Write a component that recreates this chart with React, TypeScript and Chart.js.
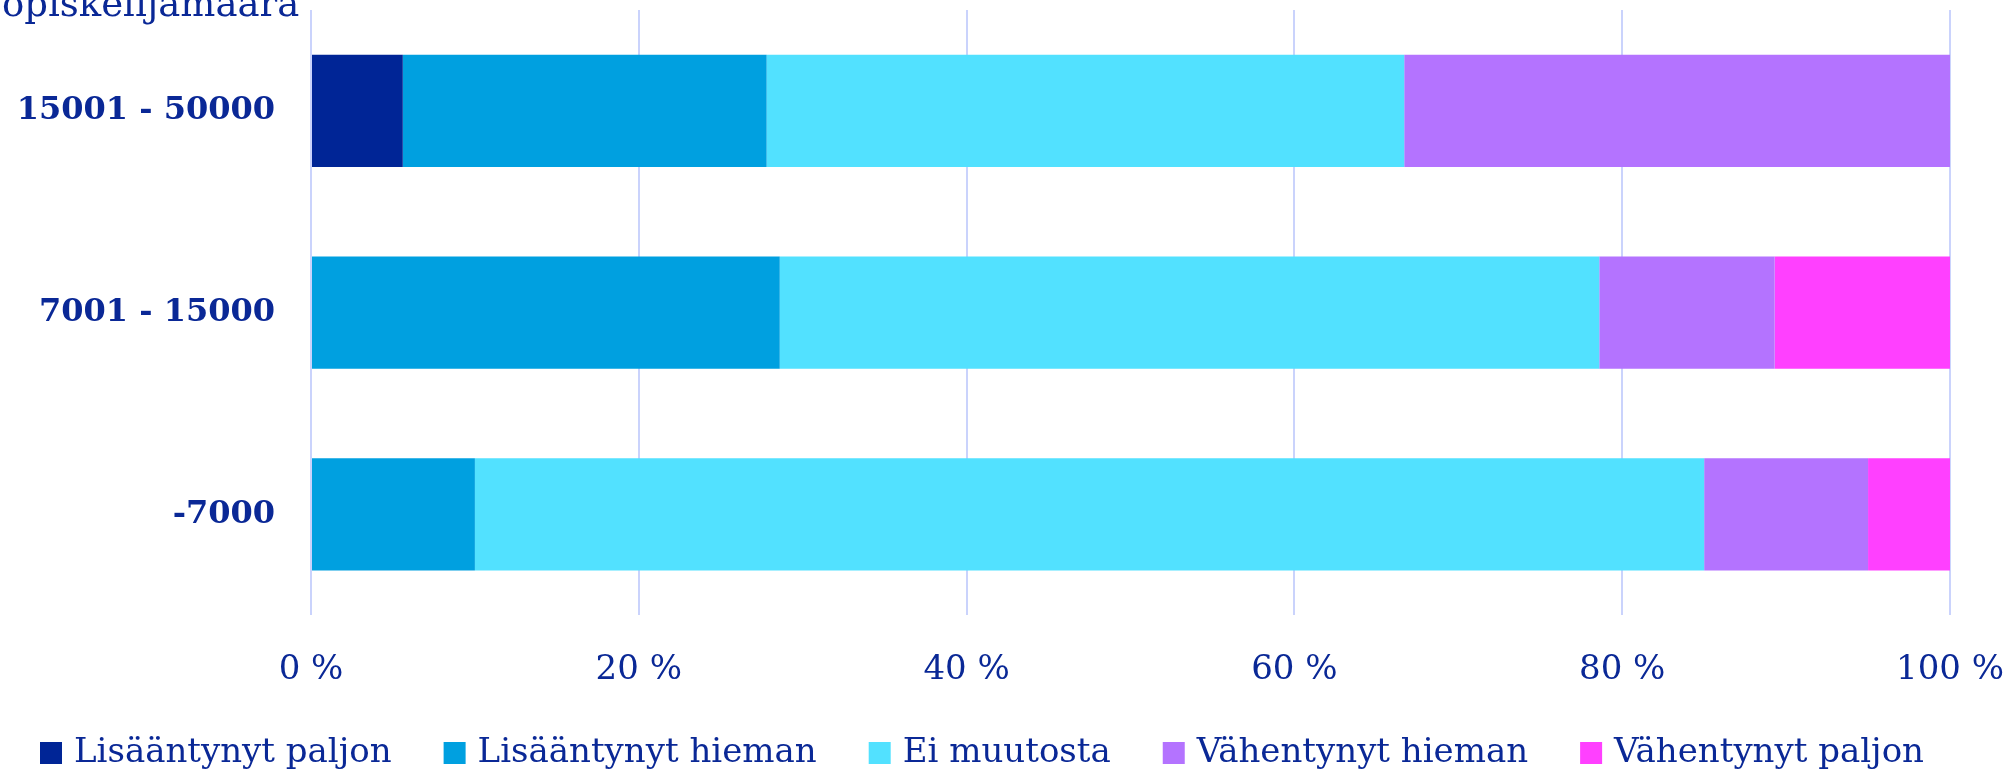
import React, { useEffect, useRef } from "react";
import { Chart, registerables } from "chart.js";

Chart.register(...registerables);

const categories = ["15001 - 50000", "7001 - 15000", "-7000"];
const seriesNames = [
  "Lisääntynyt paljon",
  "Lisääntynyt hieman",
  "Ei muutosta",
  "Vähentynyt hieman",
  "Vähentynyt paljon",
];
const lisaantynytPaljon = [5.6, 0, 0];
const lisaantynytHieman = [22.2, 28.6, 10];
const eiMuutosta = [38.9, 50, 75];
const vahentynytHieman = [33.3, 10.7, 10];
const vahentynytPaljon = [0, 10.7, 5];
const xTicks = [0, 20, 40, 60, 80, 100];
const axisTitle = "opiskelijamäärä";

const colors = ["#002596", "#00A0E0", "#52E1FF", "#B473FF", "#FF40FF"];
const textColor = "#0A2896";
const gridColor = "#CAD3FC";
const FONT = "'DejaVu Serif', serif";

const cornerTitle = {
  id: "cornerTitle",
  afterDraw(chart: any) {
    const ctx = chart.ctx;
    ctx.save();
    ctx.font = `37px ${FONT}`;
    ctx.fillStyle = textColor;
    ctx.textAlign = "left";
    ctx.textBaseline = "alphabetic";
    ctx.fillText(axisTitle, 2, 16);
    ctx.restore();
  },
};

const bottomLegend = {
  id: "bottomLegend",
  afterDraw(chart: any) {
    const ctx = chart.ctx;
    const box = 22;
    const gap = 12;
    const pad = 52;
    const centerX = 982;
    const midY = 753;
    ctx.save();
    ctx.font = `34px ${FONT}`;
    const items = chart.data.datasets.map((ds: any) => ({
      text: ds.label,
      color: ds.backgroundColor,
      w: box + gap + ctx.measureText(ds.label).width,
    }));
    const total = items.reduce((s: number, it: any) => s + it.w, 0) + pad * (items.length - 1);
    let x = centerX - total / 2;
    ctx.textAlign = "left";
    ctx.textBaseline = "middle";
    for (const it of items) {
      ctx.fillStyle = it.color;
      ctx.fillRect(x, midY - box / 2, box, box);
      ctx.fillStyle = textColor;
      ctx.fillText(it.text, x + box + gap, midY);
      x += it.w + pad;
    }
    ctx.restore();
  },
};

export default function App() {
  const ref = useRef<HTMLCanvasElement | null>(null);
  useEffect(() => {
    document.body.style.margin = "0";
    const values = [lisaantynytPaljon, lisaantynytHieman, eiMuutosta, vahentynytHieman, vahentynytPaljon];
    const chart = new Chart(ref.current as HTMLCanvasElement, {
      type: "bar",
      data: {
        labels: categories,
        datasets: seriesNames.map((name, i) => ({
          label: name,
          data: values[i],
          backgroundColor: colors[i],
          borderWidth: 0,
          barPercentage: 0.557,
          categoryPercentage: 1,
        })),
      },
      options: {
        indexAxis: "y",
        animation: false,
        responsive: true,
        maintainAspectRatio: false,
        layout: { padding: { top: 10, right: 60, bottom: 48, left: 19 } },
        scales: {
          x: {
            stacked: true,
            min: 0,
            max: 100,
            afterBuildTicks: (scale: any) => {
              scale.ticks = xTicks.map((v) => ({ value: v }));
            },
            afterFit: (scale: any) => {
              scale.paddingLeft = 0;
              scale.paddingRight = 0;
            },
            ticks: {
              color: textColor,
              font: { family: FONT, size: 34 },
              padding: 35,
              callback: (v: any) => `${v} %`,
            },
            grid: { color: gridColor, lineWidth: 2, drawTicks: false },
            border: { display: false },
          },
          y: {
            stacked: true,
            afterFit: (scale: any) => {
              scale.width = 292;
              scale.paddingTop = 0;
              scale.paddingBottom = 0;
            },
            ticks: {
              color: textColor,
              font: { family: FONT, size: 32, weight: "bold" },
              padding: 36,
            },
            grid: { display: false, drawTicks: false },
            border: { display: false },
          },
        },
        plugins: {
          legend: { display: false },
          tooltip: { enabled: false },
        },
      },
      plugins: [cornerTitle, bottomLegend],
    });
    return () => chart.destroy();
  }, []);
  return (
    <div style={{ width: 2010, height: 774, position: "relative" }}>
      <canvas ref={ref} />
    </div>
  );
}
